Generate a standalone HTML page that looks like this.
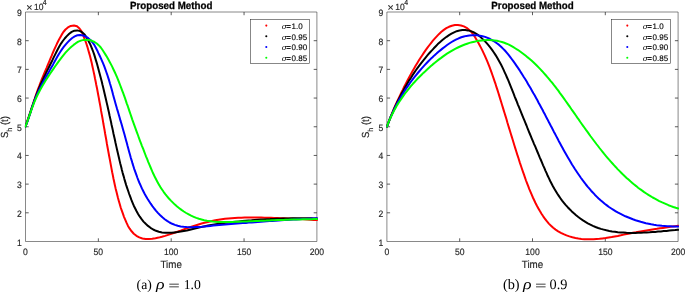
<!DOCTYPE html>
<html><head><meta charset="utf-8"><title>Proposed Method</title>
<style>html,body{margin:0;padding:0;background:#fff}body{width:685px;height:292px;overflow:hidden}svg{display:block}.t{font-family:"Liberation Sans",sans-serif;fill:#262626;stroke:#262626;stroke-width:0.15px;text-rendering:geometricPrecision}.s{font-family:"Liberation Serif",serif;fill:#000;text-rendering:geometricPrecision}</style></head><body>
<svg width="685" height="292" viewBox="0 0 685 292">
<rect width="685" height="292" fill="#fff"/>
<path d="M25.5,12.0H316.9V241.5H25.5Z" fill="none" stroke="#262626" stroke-width="0.55"/>
<path d="M98.35,241.5v-3.2M98.35,12.0v3.2M171.20,241.5v-3.2M171.20,12.0v3.2M244.05,241.5v-3.2M244.05,12.0v3.2M25.5,212.81h3.2M316.9,212.81h-3.2M25.5,184.12h3.2M316.9,184.12h-3.2M25.5,155.44h3.2M316.9,155.44h-3.2M25.5,126.75h3.2M316.9,126.75h-3.2M25.5,98.06h3.2M316.9,98.06h-3.2M25.5,69.38h3.2M316.9,69.38h-3.2M25.5,40.69h3.2M316.9,40.69h-3.2" fill="none" stroke="#262626" stroke-width="0.75"/>
<clipPath id="c0"><rect x="24.9" y="12.0" width="293.0" height="229.5"/></clipPath>
<g clip-path="url(#c0)" fill="none" stroke-width="2" stroke-linejoin="round" stroke-linecap="round">
<path d="M25.4,126.6 L26.5,123.5 L27.6,120.4 L28.6,117.3 L29.7,114.2 L30.7,111.0 L31.7,107.9 L32.7,104.8 L33.7,101.7 L34.8,98.6 L35.8,95.4 L36.9,92.3 L38.0,89.2 L39.2,86.2 L40.3,83.1 L41.5,80.0 L42.8,76.9 L44.0,73.9 L45.3,70.8 L46.6,67.8 L47.8,64.8 L49.1,61.8 L50.4,58.7 L51.7,55.7 L52.9,52.7 L54.2,49.7 L55.5,46.8 L56.9,43.8 L58.4,40.8 L59.9,37.9 L61.6,34.9 L63.4,32.0 L65.5,29.5 L67.9,27.4 L70.8,25.9 L74.0,25.5 L77.0,26.3 L79.5,28.5 L81.4,31.2 L82.8,34.3 L84.0,37.4 L85.2,40.4 L86.3,43.5 L87.3,46.6 L88.2,49.8 L89.1,52.9 L90.0,56.1 L90.8,59.3 L91.6,62.4 L92.3,65.7 L93.0,68.9 L93.7,72.1 L94.4,75.3 L95.0,78.5 L95.7,81.8 L96.3,85.0 L97.0,88.2 L97.6,91.5 L98.2,94.7 L98.8,97.9 L99.4,101.2 L100.0,104.4 L100.6,107.6 L101.1,110.9 L101.7,114.1 L102.3,117.3 L102.9,120.6 L103.4,123.8 L104.0,127.1 L104.6,130.3 L105.1,133.5 L105.7,136.8 L106.3,140.0 L106.8,143.2 L107.4,146.5 L108.0,149.7 L108.6,153.0 L109.2,156.2 L109.8,159.4 L110.4,162.6 L111.0,165.9 L111.6,169.1 L112.2,172.3 L112.9,175.6 L113.5,178.8 L114.2,182.0 L114.9,185.2 L115.6,188.4 L116.4,191.6 L117.2,194.8 L118.0,198.0 L118.9,201.2 L119.8,204.3 L120.7,207.5 L121.8,210.6 L122.9,213.7 L124.0,216.8 L125.3,219.9 L126.6,222.9 L128.0,225.9 L129.7,228.7 L131.6,231.3 L133.8,233.7 L136.4,235.8 L139.3,237.4 L142.4,238.5 L145.6,239.0 L148.9,239.1 L152.2,238.8 L155.5,238.3 L158.7,237.6 L161.9,236.8 L165.1,235.9 L168.2,234.9 L171.3,233.9 L174.4,232.8 L177.5,231.7 L180.6,230.6 L183.7,229.4 L186.8,228.3 L189.9,227.2 L193.0,226.2 L196.2,225.2 L199.3,224.2 L202.5,223.3 L205.7,222.5 L208.8,221.7 L212.0,221.0 L215.3,220.3 L218.5,219.7 L221.7,219.2 L225.0,218.8 L228.3,218.5 L231.5,218.2 L234.8,218.0 L238.1,217.8 L241.4,217.7 L244.7,217.6 L248.0,217.6 L251.3,217.6 L254.6,217.6 L257.9,217.6 L261.2,217.6 L264.5,217.7 L267.7,217.8 L271.0,217.8 L274.3,217.9 L277.6,218.0 L280.9,218.2 L284.2,218.3 L287.4,218.4 L290.7,218.6 L294.0,218.7 L297.3,218.9 L300.6,219.1 L303.8,219.3 L307.1,219.5 L310.4,219.7 L313.7,219.9 L317.0,220.1" stroke="#ff0000"/>
<path d="M25.4,126.6 L26.5,123.7 L27.5,120.7 L28.5,117.8 L29.5,114.8 L30.5,111.9 L31.5,108.9 L32.5,105.9 L33.5,103.0 L34.5,100.0 L35.6,97.1 L36.7,94.2 L37.8,91.3 L39.0,88.4 L40.2,85.5 L41.5,82.6 L42.8,79.8 L44.1,77.0 L45.5,74.2 L46.8,71.4 L48.2,68.6 L49.6,65.8 L51.0,63.0 L52.4,60.2 L53.7,57.4 L55.1,54.6 L56.5,51.8 L57.9,49.0 L59.4,46.3 L61.0,43.6 L62.8,41.0 L64.7,38.5 L66.8,36.1 L69.2,33.8 L71.7,31.9 L74.4,30.7 L77.3,30.4 L80.1,31.1 L82.6,32.6 L84.8,34.8 L86.6,37.5 L88.2,40.4 L89.7,43.2 L91.0,46.1 L92.2,49.1 L93.3,52.0 L94.3,54.9 L95.2,57.9 L96.1,60.9 L97.0,63.8 L97.8,66.8 L98.6,69.8 L99.4,72.8 L100.2,75.8 L101.0,78.8 L101.8,81.8 L102.5,84.8 L103.3,87.9 L104.0,90.9 L104.7,93.9 L105.4,97.0 L106.1,100.0 L106.8,103.1 L107.5,106.1 L108.2,109.2 L108.9,112.2 L109.5,115.3 L110.2,118.4 L110.9,121.4 L111.5,124.5 L112.2,127.5 L112.9,130.6 L113.5,133.7 L114.2,136.7 L114.9,139.8 L115.5,142.8 L116.2,145.9 L116.9,148.9 L117.6,152.0 L118.3,155.0 L119.0,158.0 L119.7,161.1 L120.4,164.1 L121.2,167.1 L121.9,170.1 L122.7,173.1 L123.6,176.1 L124.4,179.1 L125.3,182.1 L126.2,185.1 L127.2,188.1 L128.2,191.0 L129.2,194.0 L130.3,196.9 L131.4,199.9 L132.6,202.8 L133.8,205.7 L135.2,208.5 L136.6,211.3 L138.1,214.0 L139.8,216.7 L141.6,219.2 L143.5,221.6 L145.7,223.8 L148.0,225.9 L150.5,227.8 L153.2,229.5 L156.0,230.8 L158.9,231.8 L162.0,232.4 L165.1,232.7 L168.2,232.8 L171.4,232.7 L174.5,232.4 L177.6,232.1 L180.7,231.6 L183.8,231.0 L186.8,230.4 L189.9,229.7 L192.9,229.0 L195.9,228.3 L199.0,227.6 L202.0,226.9 L205.1,226.2 L208.1,225.6 L211.2,225.0 L214.3,224.5 L217.3,224.0 L220.4,223.6 L223.5,223.1 L226.6,222.8 L229.7,222.4 L232.8,222.0 L235.9,221.7 L239.1,221.4 L242.2,221.1 L245.3,220.8 L248.4,220.5 L251.5,220.3 L254.6,220.0 L257.7,219.8 L260.8,219.6 L263.9,219.4 L267.1,219.2 L270.2,219.1 L273.3,218.9 L276.4,218.8 L279.5,218.7 L282.7,218.6 L285.8,218.5 L288.9,218.4 L292.0,218.3 L295.1,218.3 L298.3,218.3 L301.4,218.3 L304.5,218.3 L307.6,218.3 L310.8,218.3 L313.9,218.4 L317.0,218.5" stroke="#000000"/>
<path d="M25.4,126.6 L26.5,123.9 L27.6,121.1 L28.5,118.3 L29.5,115.5 L30.4,112.6 L31.3,109.8 L32.2,107.0 L33.2,104.1 L34.2,101.3 L35.3,98.6 L36.4,95.8 L37.6,93.1 L38.9,90.4 L40.2,87.8 L41.5,85.2 L42.9,82.5 L44.3,79.9 L45.8,77.3 L47.2,74.7 L48.7,72.2 L50.1,69.6 L51.6,67.0 L53.1,64.4 L54.5,61.8 L55.9,59.2 L57.4,56.6 L58.9,54.0 L60.5,51.5 L62.1,49.1 L63.9,46.7 L65.8,44.3 L67.8,42.1 L69.9,40.0 L72.2,38.0 L74.7,36.4 L77.4,35.3 L80.2,35.0 L83.0,35.4 L85.7,36.5 L88.3,38.2 L90.6,40.2 L92.6,42.5 L94.3,44.9 L95.7,47.5 L97.1,50.2 L98.3,52.9 L99.6,55.5 L100.8,58.2 L102.0,60.9 L103.2,63.6 L104.3,66.4 L105.3,69.2 L106.3,72.0 L107.3,74.8 L108.2,77.6 L109.1,80.4 L109.9,83.3 L110.8,86.2 L111.6,89.0 L112.4,91.9 L113.1,94.8 L113.9,97.7 L114.7,100.5 L115.5,103.4 L116.3,106.2 L117.1,109.1 L118.0,111.9 L118.8,114.7 L119.6,117.6 L120.4,120.4 L121.3,123.2 L122.1,126.1 L122.9,128.9 L123.7,131.7 L124.5,134.6 L125.3,137.5 L126.1,140.4 L126.9,143.2 L127.6,146.1 L128.4,149.0 L129.2,151.9 L130.0,154.8 L130.8,157.7 L131.7,160.6 L132.5,163.4 L133.4,166.3 L134.3,169.1 L135.3,171.9 L136.3,174.7 L137.3,177.5 L138.4,180.3 L139.5,183.0 L140.7,185.7 L141.9,188.4 L143.2,191.0 L144.6,193.7 L146.0,196.2 L147.5,198.8 L149.1,201.3 L150.7,203.7 L152.4,206.1 L154.2,208.5 L156.1,210.8 L158.1,213.1 L160.2,215.2 L162.4,217.3 L164.7,219.2 L167.1,220.9 L169.6,222.5 L172.2,223.8 L174.9,224.9 L177.7,225.8 L180.7,226.4 L183.6,226.8 L186.6,227.1 L189.7,227.2 L192.7,227.2 L195.6,227.1 L198.6,227.0 L201.6,226.8 L204.5,226.5 L207.4,226.2 L210.4,225.9 L213.3,225.6 L216.3,225.3 L219.2,225.0 L222.2,224.7 L225.1,224.5 L228.1,224.2 L231.0,224.0 L234.0,223.8 L237.0,223.5 L240.0,223.3 L242.9,223.1 L245.9,222.9 L248.8,222.6 L251.8,222.4 L254.8,222.2 L257.7,222.0 L260.7,221.8 L263.7,221.5 L266.6,221.3 L269.6,221.1 L272.5,220.9 L275.5,220.7 L278.5,220.5 L281.4,220.3 L284.4,220.1 L287.3,219.9 L290.3,219.7 L293.3,219.6 L296.2,219.4 L299.2,219.2 L302.2,219.0 L305.1,218.9 L308.1,218.7 L311.1,218.6 L314.0,218.4 L317.0,218.3" stroke="#0000ff"/>
<path d="M25.4,126.6 L26.4,124.0 L27.4,121.4 L28.3,118.7 L29.3,116.0 L30.2,113.4 L31.1,110.7 L32.1,108.0 L33.1,105.4 L34.1,102.7 L35.2,100.1 L36.3,97.6 L37.5,95.0 L38.8,92.5 L40.1,90.0 L41.5,87.6 L42.9,85.1 L44.3,82.7 L45.8,80.3 L47.3,78.0 L48.8,75.6 L50.4,73.3 L52.0,70.9 L53.6,68.6 L55.2,66.3 L56.9,63.9 L58.5,61.6 L60.2,59.3 L61.9,57.1 L63.7,54.8 L65.5,52.7 L67.4,50.6 L69.4,48.6 L71.4,46.7 L73.6,44.9 L75.9,43.2 L78.3,41.7 L80.9,40.6 L83.6,39.9 L86.4,39.7 L89.2,40.0 L91.9,40.8 L94.5,42.0 L96.8,43.5 L98.9,45.4 L100.8,47.5 L102.4,49.8 L104.0,52.2 L105.5,54.6 L107.0,57.0 L108.4,59.5 L109.7,61.9 L111.0,64.4 L112.3,66.9 L113.5,69.5 L114.7,72.0 L115.9,74.6 L117.0,77.2 L118.1,79.8 L119.1,82.4 L120.1,85.0 L121.1,87.6 L122.1,90.3 L123.1,92.9 L124.1,95.6 L125.0,98.2 L125.9,100.9 L126.8,103.6 L127.8,106.2 L128.7,108.9 L129.6,111.6 L130.5,114.3 L131.4,116.9 L132.3,119.6 L133.3,122.3 L134.2,124.9 L135.2,127.6 L136.1,130.2 L137.1,132.9 L138.1,135.5 L139.0,138.2 L140.0,140.8 L141.0,143.4 L142.0,146.1 L143.1,148.7 L144.1,151.3 L145.1,154.0 L146.1,156.6 L147.2,159.2 L148.2,161.8 L149.3,164.4 L150.4,167.0 L151.5,169.6 L152.6,172.2 L153.8,174.7 L155.0,177.3 L156.3,179.8 L157.6,182.2 L159.0,184.7 L160.4,187.1 L162.0,189.5 L163.6,191.8 L165.3,194.1 L167.1,196.3 L168.9,198.5 L170.9,200.6 L172.9,202.6 L174.9,204.6 L177.1,206.5 L179.3,208.2 L181.5,209.9 L183.8,211.5 L186.2,213.0 L188.7,214.4 L191.1,215.7 L193.7,216.8 L196.3,217.9 L198.9,218.8 L201.5,219.5 L204.2,220.2 L207.0,220.7 L209.7,221.1 L212.5,221.5 L215.3,221.7 L218.2,221.9 L221.0,222.0 L223.9,222.0 L226.7,222.0 L229.6,222.0 L232.5,221.9 L235.3,221.8 L238.2,221.7 L241.0,221.6 L243.9,221.5 L246.7,221.4 L249.5,221.3 L252.3,221.2 L255.1,221.0 L258.0,220.9 L260.8,220.8 L263.6,220.7 L266.3,220.6 L269.1,220.4 L271.9,220.3 L274.7,220.2 L277.5,220.1 L280.3,220.0 L283.1,219.9 L285.9,219.8 L288.7,219.7 L291.5,219.6 L294.3,219.5 L297.1,219.4 L299.9,219.4 L302.8,219.3 L305.6,219.3 L308.5,219.2 L311.3,219.2 L314.2,219.1 L317.1,219.1" stroke="#00ff00"/>
</g>
<text class="t" transform="translate(25.50,254.60) scale(1,1.07)" font-size="8.6" text-anchor="middle">0</text>
<text class="t" transform="translate(98.35,254.60) scale(1,1.07)" font-size="8.6" text-anchor="middle">50</text>
<text class="t" transform="translate(171.20,254.60) scale(1,1.07)" font-size="8.6" text-anchor="middle">100</text>
<text class="t" transform="translate(244.05,254.60) scale(1,1.07)" font-size="8.6" text-anchor="middle">150</text>
<text class="t" transform="translate(316.90,254.60) scale(1,1.07)" font-size="8.6" text-anchor="middle">200</text>
<text class="t" transform="translate(21.90,245.50) scale(1,1.07)" font-size="8.6" text-anchor="end">1</text>
<text class="t" transform="translate(21.90,216.81) scale(1,1.07)" font-size="8.6" text-anchor="end">2</text>
<text class="t" transform="translate(21.90,188.12) scale(1,1.07)" font-size="8.6" text-anchor="end">3</text>
<text class="t" transform="translate(21.90,159.44) scale(1,1.07)" font-size="8.6" text-anchor="end">4</text>
<text class="t" transform="translate(21.90,130.75) scale(1,1.07)" font-size="8.6" text-anchor="end">5</text>
<text class="t" transform="translate(21.90,102.06) scale(1,1.07)" font-size="8.6" text-anchor="end">6</text>
<text class="t" transform="translate(21.90,73.38) scale(1,1.07)" font-size="8.6" text-anchor="end">7</text>
<text class="t" transform="translate(21.90,44.69) scale(1,1.07)" font-size="8.6" text-anchor="end">8</text>
<text class="t" transform="translate(21.90,16.00) scale(1,1.07)" font-size="8.6" text-anchor="end">9</text>
<text class="t" x="26.2" y="11.1" font-size="10.6">×</text>
<text class="t" transform="translate(33.90,10.10) scale(1,1.07)" font-size="8.5" text-anchor="start">10</text>
<text class="t" transform="translate(42.80,4.70) scale(1,1.07)" font-size="7.0" text-anchor="start">4</text>
<text class="t" transform="translate(171.20,8.75) scale(1,1.07)" font-size="9.75" text-anchor="middle" font-weight="bold" style="fill:#000;stroke:#000;stroke-width:0.25px">Proposed Method</text>
<text class="t" transform="translate(171.20,268.30) scale(1,1.07)" font-size="9.8" text-anchor="middle">Time</text>
<text class="t" transform="translate(7.50,127.05) rotate(-90) scale(1,1.07)" font-size="9.6" text-anchor="middle">S<tspan dy="3.8" font-size="6.9">h</tspan><tspan dy="-3.8"> (t)</tspan></text>
<rect x="250.5" y="19.3" width="59.0" height="44.0" fill="#fff" stroke="#262626" stroke-width="0.55"/>
<circle cx="266.3" cy="25.60" r="1.05" fill="#ff0000"/>
<text transform="translate(281.7,28.95)" font-size="7.7" font-style="italic" style="font-family:'DejaVu Serif','Liberation Serif',serif;fill:#000;text-rendering:geometricPrecision">σ</text>
<text class="t" x="286.35" y="28.95" font-size="8.0" style="fill:#000;stroke:#000;stroke-width:0.12px">=<tspan dx="0.55">1.0</tspan></text>
<circle cx="266.3" cy="36.30" r="1.05" fill="#000000"/>
<text transform="translate(281.7,39.65)" font-size="7.7" font-style="italic" style="font-family:'DejaVu Serif','Liberation Serif',serif;fill:#000;text-rendering:geometricPrecision">σ</text>
<text class="t" x="286.35" y="39.65" font-size="8.0" style="fill:#000;stroke:#000;stroke-width:0.12px">=<tspan dx="0.55">0.95</tspan></text>
<circle cx="266.3" cy="47.00" r="1.05" fill="#0000ff"/>
<text transform="translate(281.7,50.35)" font-size="7.7" font-style="italic" style="font-family:'DejaVu Serif','Liberation Serif',serif;fill:#000;text-rendering:geometricPrecision">σ</text>
<text class="t" x="286.35" y="50.35" font-size="8.0" style="fill:#000;stroke:#000;stroke-width:0.12px">=<tspan dx="0.55">0.90</tspan></text>
<circle cx="266.3" cy="57.70" r="1.05" fill="#00ff00"/>
<text transform="translate(281.7,61.05)" font-size="7.7" font-style="italic" style="font-family:'DejaVu Serif','Liberation Serif',serif;fill:#000;text-rendering:geometricPrecision">σ</text>
<text class="t" x="286.35" y="61.05" font-size="8.0" style="fill:#000;stroke:#000;stroke-width:0.12px">=<tspan dx="0.55">0.85</tspan></text>
<path d="M386.9,12.0H678.1V241.5H386.9Z" fill="none" stroke="#262626" stroke-width="0.55"/>
<path d="M459.70,241.5v-3.2M459.70,12.0v3.2M532.50,241.5v-3.2M532.50,12.0v3.2M605.30,241.5v-3.2M605.30,12.0v3.2M386.9,212.81h3.2M678.1,212.81h-3.2M386.9,184.12h3.2M678.1,184.12h-3.2M386.9,155.44h3.2M678.1,155.44h-3.2M386.9,126.75h3.2M678.1,126.75h-3.2M386.9,98.06h3.2M678.1,98.06h-3.2M386.9,69.38h3.2M678.1,69.38h-3.2M386.9,40.69h3.2M678.1,40.69h-3.2" fill="none" stroke="#262626" stroke-width="0.75"/>
<clipPath id="c1"><rect x="386.3" y="12.0" width="292.8" height="229.5"/></clipPath>
<g clip-path="url(#c1)" fill="none" stroke-width="2" stroke-linejoin="round" stroke-linecap="round">
<path d="M386.9,126.6 L388.0,123.7 L389.0,120.9 L390.1,118.0 L391.3,115.1 L392.4,112.3 L393.6,109.5 L394.8,106.7 L396.0,103.9 L397.3,101.1 L398.6,98.3 L399.9,95.6 L401.2,92.8 L402.6,90.1 L403.9,87.3 L405.3,84.6 L406.7,81.9 L408.1,79.2 L409.6,76.5 L411.1,73.8 L412.6,71.1 L414.1,68.5 L415.6,65.8 L417.2,63.2 L418.8,60.6 L420.4,58.0 L422.1,55.5 L423.8,52.9 L425.5,50.4 L427.3,47.9 L429.1,45.5 L431.0,43.1 L432.9,40.7 L434.9,38.4 L437.0,36.1 L439.1,33.9 L441.4,31.8 L443.8,29.9 L446.3,28.2 L449.0,26.8 L451.9,25.7 L454.9,25.1 L457.9,25.0 L461.0,25.5 L463.9,26.4 L466.6,27.8 L469.0,29.7 L471.2,31.8 L473.1,34.2 L474.8,36.8 L476.4,39.4 L477.9,42.0 L479.4,44.7 L480.8,47.4 L482.2,50.1 L483.5,52.9 L484.8,55.6 L486.0,58.4 L487.2,61.2 L488.4,64.1 L489.5,66.9 L490.6,69.8 L491.6,72.6 L492.6,75.5 L493.6,78.4 L494.6,81.3 L495.6,84.2 L496.5,87.2 L497.5,90.1 L498.4,93.0 L499.3,95.9 L500.2,98.9 L501.1,101.8 L502.0,104.7 L502.9,107.6 L503.8,110.6 L504.7,113.5 L505.6,116.4 L506.5,119.3 L507.3,122.3 L508.2,125.2 L509.1,128.1 L510.0,131.0 L510.9,134.0 L511.8,136.9 L512.7,139.8 L513.6,142.7 L514.5,145.7 L515.4,148.6 L516.3,151.5 L517.2,154.4 L518.2,157.3 L519.1,160.2 L520.0,163.1 L521.0,166.0 L522.0,169.0 L523.0,171.9 L524.0,174.7 L525.0,177.6 L526.0,180.5 L527.1,183.4 L528.2,186.2 L529.3,189.1 L530.5,191.9 L531.7,194.7 L532.9,197.5 L534.2,200.2 L535.5,203.0 L536.9,205.7 L538.4,208.4 L539.9,211.1 L541.5,213.7 L543.2,216.3 L545.0,218.8 L546.8,221.2 L548.8,223.6 L551.0,225.7 L553.2,227.8 L555.6,229.6 L558.2,231.3 L560.9,232.8 L563.6,234.2 L566.5,235.4 L569.4,236.4 L572.4,237.3 L575.4,238.0 L578.4,238.5 L581.4,238.9 L584.4,239.2 L587.4,239.3 L590.5,239.3 L593.5,239.2 L596.5,239.0 L599.5,238.8 L602.6,238.4 L605.6,238.0 L608.7,237.5 L611.7,237.0 L614.7,236.4 L617.8,235.9 L620.8,235.3 L623.8,234.6 L626.8,234.0 L629.8,233.4 L632.9,232.8 L635.9,232.3 L638.9,231.7 L641.9,231.2 L644.9,230.7 L647.9,230.2 L650.9,229.7 L653.9,229.2 L656.9,228.8 L659.9,228.3 L662.9,227.9 L665.9,227.5 L669.0,227.0 L672.0,226.6 L675.1,226.2 L678.1,225.8" stroke="#ff0000"/>
<path d="M386.9,126.6 L387.9,123.9 L389.0,121.3 L390.0,118.6 L391.1,115.9 L392.3,113.3 L393.4,110.7 L394.6,108.0 L395.8,105.4 L397.0,102.8 L398.3,100.3 L399.6,97.7 L400.9,95.1 L402.3,92.6 L403.6,90.1 L405.0,87.5 L406.5,85.1 L407.9,82.6 L409.4,80.1 L411.0,77.7 L412.5,75.3 L414.1,72.9 L415.7,70.5 L417.4,68.2 L419.1,65.9 L420.8,63.6 L422.6,61.3 L424.4,59.1 L426.2,56.8 L428.0,54.7 L429.9,52.5 L431.9,50.4 L433.8,48.3 L435.8,46.2 L437.8,44.1 L439.9,42.2 L442.1,40.3 L444.3,38.5 L446.6,36.8 L449.0,35.2 L451.5,33.7 L454.1,32.3 L456.7,31.2 L459.5,30.5 L462.3,30.1 L465.2,30.0 L468.0,30.4 L470.8,31.1 L473.4,32.2 L475.9,33.6 L478.3,35.2 L480.6,37.1 L482.7,39.1 L484.8,41.1 L486.7,43.2 L488.6,45.4 L490.4,47.6 L492.1,49.9 L493.7,52.2 L495.3,54.6 L496.8,57.0 L498.2,59.5 L499.6,62.0 L501.0,64.5 L502.3,67.1 L503.5,69.7 L504.7,72.3 L505.9,74.9 L507.0,77.5 L508.2,80.2 L509.3,82.9 L510.4,85.6 L511.4,88.2 L512.5,90.9 L513.6,93.6 L514.6,96.3 L515.7,99.0 L516.8,101.6 L517.8,104.3 L518.9,106.9 L520.0,109.6 L521.1,112.3 L522.1,114.9 L523.2,117.6 L524.3,120.2 L525.4,122.9 L526.5,125.5 L527.5,128.2 L528.6,130.8 L529.7,133.5 L530.8,136.1 L531.9,138.8 L533.0,141.4 L534.1,144.1 L535.3,146.7 L536.4,149.4 L537.5,152.0 L538.6,154.7 L539.7,157.4 L540.9,160.0 L542.0,162.6 L543.1,165.3 L544.3,167.9 L545.4,170.6 L546.6,173.2 L547.7,175.8 L549.0,178.4 L550.2,181.0 L551.5,183.5 L552.8,186.0 L554.2,188.5 L555.7,191.0 L557.2,193.5 L558.8,195.9 L560.4,198.2 L562.1,200.6 L563.9,202.8 L565.8,205.1 L567.7,207.2 L569.7,209.3 L571.8,211.4 L573.9,213.3 L576.1,215.2 L578.3,217.0 L580.6,218.7 L583.0,220.4 L585.4,221.9 L587.8,223.3 L590.4,224.7 L592.9,225.9 L595.5,227.0 L598.2,228.0 L600.9,228.9 L603.7,229.6 L606.4,230.3 L609.3,230.9 L612.1,231.4 L614.9,231.8 L617.8,232.2 L620.7,232.4 L623.6,232.6 L626.5,232.8 L629.4,232.9 L632.3,232.9 L635.2,232.9 L638.1,232.8 L641.0,232.7 L643.9,232.6 L646.7,232.4 L649.6,232.3 L652.4,232.1 L655.2,231.9 L658.0,231.6 L660.9,231.4 L663.7,231.1 L666.6,230.9 L669.4,230.6 L672.3,230.3 L675.2,230.1 L678.1,229.8" stroke="#000000"/>
<path d="M386.9,126.6 L387.9,124.1 L388.8,121.5 L389.8,119.0 L390.9,116.5 L392.0,114.1 L393.1,111.6 L394.3,109.2 L395.5,106.7 L396.7,104.3 L398.0,102.0 L399.3,99.6 L400.7,97.3 L402.1,95.0 L403.5,92.7 L404.9,90.4 L406.4,88.1 L408.0,85.9 L409.5,83.7 L411.1,81.5 L412.7,79.4 L414.4,77.2 L416.1,75.1 L417.8,73.0 L419.5,71.0 L421.3,68.9 L423.1,66.9 L424.9,64.9 L426.7,63.0 L428.6,61.0 L430.5,59.1 L432.5,57.3 L434.4,55.4 L436.5,53.6 L438.5,51.8 L440.6,50.1 L442.7,48.4 L444.9,46.7 L447.1,45.0 L449.3,43.5 L451.6,42.0 L454.0,40.6 L456.4,39.4 L458.8,38.3 L461.3,37.3 L463.9,36.5 L466.5,35.9 L469.2,35.5 L471.9,35.2 L474.5,35.2 L477.2,35.3 L479.9,35.7 L482.5,36.2 L485.1,36.9 L487.6,37.9 L490.1,39.0 L492.4,40.3 L494.7,41.7 L496.9,43.3 L499.1,44.9 L501.1,46.7 L503.0,48.6 L504.9,50.5 L506.7,52.6 L508.4,54.6 L510.1,56.8 L511.7,59.0 L513.3,61.2 L514.9,63.4 L516.4,65.6 L518.0,67.9 L519.5,70.1 L520.9,72.4 L522.4,74.7 L523.8,77.0 L525.3,79.3 L526.7,81.6 L528.0,83.9 L529.4,86.3 L530.8,88.6 L532.1,90.9 L533.4,93.3 L534.8,95.6 L536.1,98.0 L537.4,100.3 L538.6,102.7 L539.9,105.1 L541.2,107.5 L542.5,109.8 L543.7,112.2 L545.0,114.6 L546.2,117.0 L547.5,119.4 L548.7,121.8 L550.0,124.2 L551.2,126.6 L552.5,129.0 L553.7,131.4 L555.0,133.8 L556.2,136.1 L557.5,138.5 L558.7,140.9 L560.0,143.3 L561.3,145.7 L562.6,148.1 L563.9,150.4 L565.2,152.8 L566.5,155.1 L567.9,157.5 L569.3,159.8 L570.6,162.1 L572.0,164.5 L573.5,166.7 L574.9,169.0 L576.4,171.3 L577.9,173.5 L579.5,175.8 L581.0,178.0 L582.6,180.2 L584.3,182.3 L585.9,184.5 L587.6,186.6 L589.4,188.7 L591.1,190.7 L593.0,192.7 L594.8,194.7 L596.7,196.6 L598.6,198.5 L600.6,200.3 L602.7,202.1 L604.7,203.8 L606.9,205.4 L609.0,207.0 L611.3,208.5 L613.5,209.9 L615.8,211.3 L618.2,212.7 L620.6,213.9 L623.0,215.1 L625.4,216.3 L627.9,217.3 L630.4,218.3 L632.9,219.3 L635.5,220.2 L638.1,221.0 L640.7,221.8 L643.3,222.5 L645.9,223.2 L648.6,223.7 L651.2,224.3 L653.9,224.8 L656.6,225.2 L659.3,225.5 L662.0,225.8 L664.6,226.0 L667.3,226.2 L670.0,226.3 L672.7,226.4 L675.4,226.4 L678.1,226.4" stroke="#0000ff"/>
<path d="M386.9,126.6 L387.8,124.2 L388.7,121.9 L389.7,119.5 L390.8,117.2 L391.9,114.9 L393.0,112.7 L394.2,110.4 L395.4,108.2 L396.6,106.0 L397.9,103.9 L399.3,101.8 L400.7,99.7 L402.1,97.6 L403.5,95.6 L405.0,93.5 L406.5,91.6 L408.1,89.6 L409.7,87.6 L411.3,85.7 L412.9,83.8 L414.6,82.0 L416.3,80.1 L418.0,78.3 L419.8,76.5 L421.6,74.7 L423.4,72.9 L425.3,71.2 L427.1,69.5 L429.0,67.8 L430.9,66.1 L432.8,64.4 L434.8,62.8 L436.7,61.2 L438.7,59.6 L440.8,58.1 L442.8,56.6 L444.9,55.1 L447.0,53.7 L449.1,52.4 L451.2,51.1 L453.4,49.8 L455.6,48.6 L457.9,47.5 L460.1,46.5 L462.4,45.5 L464.8,44.5 L467.1,43.7 L469.5,42.9 L471.9,42.3 L474.4,41.7 L476.9,41.1 L479.4,40.7 L481.9,40.4 L484.4,40.2 L487.0,40.1 L489.5,40.1 L492.0,40.2 L494.5,40.5 L497.0,40.8 L499.5,41.4 L501.9,42.0 L504.3,42.8 L506.6,43.7 L508.9,44.7 L511.2,45.9 L513.4,47.2 L515.5,48.5 L517.7,49.8 L519.8,51.3 L521.8,52.7 L523.8,54.2 L525.8,55.8 L527.7,57.4 L529.7,59.0 L531.5,60.6 L533.4,62.3 L535.2,64.0 L537.0,65.8 L538.8,67.6 L540.5,69.4 L542.2,71.2 L543.9,73.1 L545.6,75.0 L547.2,76.9 L548.9,78.8 L550.5,80.8 L552.1,82.7 L553.6,84.7 L555.2,86.7 L556.7,88.7 L558.3,90.7 L559.8,92.8 L561.3,94.8 L562.8,96.9 L564.2,98.9 L565.7,101.0 L567.2,103.1 L568.6,105.1 L570.1,107.2 L571.5,109.3 L573.0,111.4 L574.4,113.4 L575.9,115.5 L577.3,117.6 L578.8,119.6 L580.2,121.7 L581.6,123.7 L583.1,125.8 L584.5,127.8 L586.0,129.9 L587.5,131.9 L588.9,133.9 L590.4,136.0 L591.9,138.0 L593.4,140.0 L594.9,142.0 L596.4,144.0 L598.0,146.0 L599.5,148.0 L601.1,150.0 L602.6,151.9 L604.2,153.9 L605.8,155.8 L607.5,157.8 L609.1,159.7 L610.8,161.6 L612.5,163.5 L614.2,165.4 L615.9,167.2 L617.6,169.1 L619.4,170.9 L621.2,172.7 L623.0,174.5 L624.8,176.2 L626.6,177.9 L628.5,179.6 L630.4,181.3 L632.3,182.9 L634.2,184.5 L636.2,186.1 L638.1,187.7 L640.1,189.2 L642.2,190.6 L644.2,192.1 L646.3,193.5 L648.4,194.9 L650.5,196.2 L652.7,197.5 L654.9,198.7 L657.1,199.9 L659.3,201.1 L661.6,202.2 L663.9,203.2 L666.2,204.2 L668.5,205.2 L670.9,206.1 L673.3,207.0 L675.8,207.8 L678.2,208.5" stroke="#00ff00"/>
</g>
<text class="t" transform="translate(386.90,254.60) scale(1,1.07)" font-size="8.6" text-anchor="middle">0</text>
<text class="t" transform="translate(459.70,254.60) scale(1,1.07)" font-size="8.6" text-anchor="middle">50</text>
<text class="t" transform="translate(532.50,254.60) scale(1,1.07)" font-size="8.6" text-anchor="middle">100</text>
<text class="t" transform="translate(605.30,254.60) scale(1,1.07)" font-size="8.6" text-anchor="middle">150</text>
<text class="t" transform="translate(678.10,254.60) scale(1,1.07)" font-size="8.6" text-anchor="middle">200</text>
<text class="t" transform="translate(383.30,245.50) scale(1,1.07)" font-size="8.6" text-anchor="end">1</text>
<text class="t" transform="translate(383.30,216.81) scale(1,1.07)" font-size="8.6" text-anchor="end">2</text>
<text class="t" transform="translate(383.30,188.12) scale(1,1.07)" font-size="8.6" text-anchor="end">3</text>
<text class="t" transform="translate(383.30,159.44) scale(1,1.07)" font-size="8.6" text-anchor="end">4</text>
<text class="t" transform="translate(383.30,130.75) scale(1,1.07)" font-size="8.6" text-anchor="end">5</text>
<text class="t" transform="translate(383.30,102.06) scale(1,1.07)" font-size="8.6" text-anchor="end">6</text>
<text class="t" transform="translate(383.30,73.38) scale(1,1.07)" font-size="8.6" text-anchor="end">7</text>
<text class="t" transform="translate(383.30,44.69) scale(1,1.07)" font-size="8.6" text-anchor="end">8</text>
<text class="t" transform="translate(383.30,16.00) scale(1,1.07)" font-size="8.6" text-anchor="end">9</text>
<text class="t" x="387.6" y="11.1" font-size="10.6">×</text>
<text class="t" transform="translate(395.30,10.10) scale(1,1.07)" font-size="8.5" text-anchor="start">10</text>
<text class="t" transform="translate(404.20,4.70) scale(1,1.07)" font-size="7.0" text-anchor="start">4</text>
<text class="t" transform="translate(532.50,8.75) scale(1,1.07)" font-size="9.75" text-anchor="middle" font-weight="bold" style="fill:#000;stroke:#000;stroke-width:0.25px">Proposed Method</text>
<text class="t" transform="translate(532.50,268.30) scale(1,1.07)" font-size="9.8" text-anchor="middle">Time</text>
<text class="t" transform="translate(368.90,127.05) rotate(-90) scale(1,1.07)" font-size="9.6" text-anchor="middle">S<tspan dy="3.8" font-size="6.9">h</tspan><tspan dy="-3.8"> (t)</tspan></text>
<rect x="611.5" y="19.3" width="59.0" height="44.0" fill="#fff" stroke="#262626" stroke-width="0.55"/>
<circle cx="627.3" cy="25.60" r="1.05" fill="#ff0000"/>
<text transform="translate(642.7,28.95)" font-size="7.7" font-style="italic" style="font-family:'DejaVu Serif','Liberation Serif',serif;fill:#000;text-rendering:geometricPrecision">σ</text>
<text class="t" x="647.35" y="28.95" font-size="8.0" style="fill:#000;stroke:#000;stroke-width:0.12px">=<tspan dx="0.55">1.0</tspan></text>
<circle cx="627.3" cy="36.30" r="1.05" fill="#000000"/>
<text transform="translate(642.7,39.65)" font-size="7.7" font-style="italic" style="font-family:'DejaVu Serif','Liberation Serif',serif;fill:#000;text-rendering:geometricPrecision">σ</text>
<text class="t" x="647.35" y="39.65" font-size="8.0" style="fill:#000;stroke:#000;stroke-width:0.12px">=<tspan dx="0.55">0.95</tspan></text>
<circle cx="627.3" cy="47.00" r="1.05" fill="#0000ff"/>
<text transform="translate(642.7,50.35)" font-size="7.7" font-style="italic" style="font-family:'DejaVu Serif','Liberation Serif',serif;fill:#000;text-rendering:geometricPrecision">σ</text>
<text class="t" x="647.35" y="50.35" font-size="8.0" style="fill:#000;stroke:#000;stroke-width:0.12px">=<tspan dx="0.55">0.90</tspan></text>
<circle cx="627.3" cy="57.70" r="1.05" fill="#00ff00"/>
<text transform="translate(642.7,61.05)" font-size="7.7" font-style="italic" style="font-family:'DejaVu Serif','Liberation Serif',serif;fill:#000;text-rendering:geometricPrecision">σ</text>
<text class="t" x="647.35" y="61.05" font-size="8.0" style="fill:#000;stroke:#000;stroke-width:0.12px">=<tspan dx="0.55">0.85</tspan></text>
<text class="s" x="136.6" y="288.6" font-size="13.7">(a)</text>
<text class="s" transform="translate(156.0,288.6) scale(1.3,1.08)" font-size="13.7" font-style="italic">ρ</text>
<text class="s" transform="translate(168.2,289.90000000000003) scale(1.5,1)" font-size="13.7">=</text>
<text class="s" x="183.7" y="288.6" font-size="13.7">1.0</text>
<text class="s" x="502.9" y="288.6" font-size="14.3">(b)</text>
<text class="s" transform="translate(522.9,288.6) scale(1.3,1.08)" font-size="13.7" font-style="italic">ρ</text>
<text class="s" transform="translate(535.0,289.90000000000003) scale(1.5,1)" font-size="13.7">=</text>
<text class="s" x="549.5" y="288.6" font-size="14.3">0.9</text>
</svg></body></html>
